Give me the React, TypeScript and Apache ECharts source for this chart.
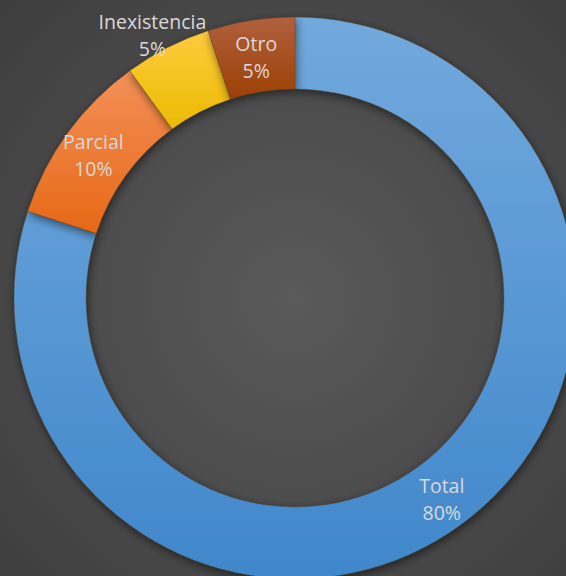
import React, { useEffect, useRef } from "react";
import * as echarts from "echarts";

const categories = ["Total", "Parcial", "Inexistencia", "Otro"];
const values = [80, 10, 5, 5];
const topColors = ["#72a9dd", "#f39058", "#ffcb3e", "#b0603e"];
const bottomColors = ["#4087cb", "#e76816", "#ebbb00", "#9c4004"];
const labelOffsets: Array<[number, number]> = [[1, 0], [-1, 3], [-30, -42], [0, 4]];

export default function App() {
  const ref = useRef<HTMLDivElement>(null);
  useEffect(() => {
    document.body.style.margin = "0";
    const chart = echarts.init(ref.current!, null, { renderer: "svg" });
    const data = categories.map((name, i) => ({
      name,
      value: values[i],
      itemStyle: {
        color: new echarts.graphic.LinearGradient(0, 0, 0, 1, [
          { offset: 0, color: topColors[i] },
          { offset: 1, color: bottomColors[i] },
        ]),
      },
      label: { offset: labelOffsets[i] },
    }));
    chart.setOption({
      animation: false,
      backgroundColor: new echarts.graphic.RadialGradient(0.52, 0.52, 0.75, [
        { offset: 0, color: "#5a5a5a" },
        { offset: 1, color: "#3d3d3d" },
      ]),
      series: [
        {
          type: "pie",
          center: [295, 298],
          radius: [209, 281],
          startAngle: 90,
          clockwise: true,
          avoidLabelOverlap: false,
          itemStyle: {
            borderWidth: 0.6,
            borderColor: "rgba(80,60,20,0.5)",
            shadowBlur: 10,
            shadowOffsetX: 1,
            shadowOffsetY: 3,
            shadowColor: "rgba(0,0,0,0.55)",
          },
          label: {
            show: true,
            position: "inside",
            formatter: (p: any) => `${p.name}\n${p.value}%`,
            color: "#d9d9d9",
            fontFamily: "Open Sans",
            fontSize: 19.5,
            lineHeight: 27,
          },
          labelLine: { show: false },
          data,
        },
      ],
    });
    return () => chart.dispose();
  }, []);
  return <div ref={ref} style={{ width: 566, height: 576 }} />;
}
